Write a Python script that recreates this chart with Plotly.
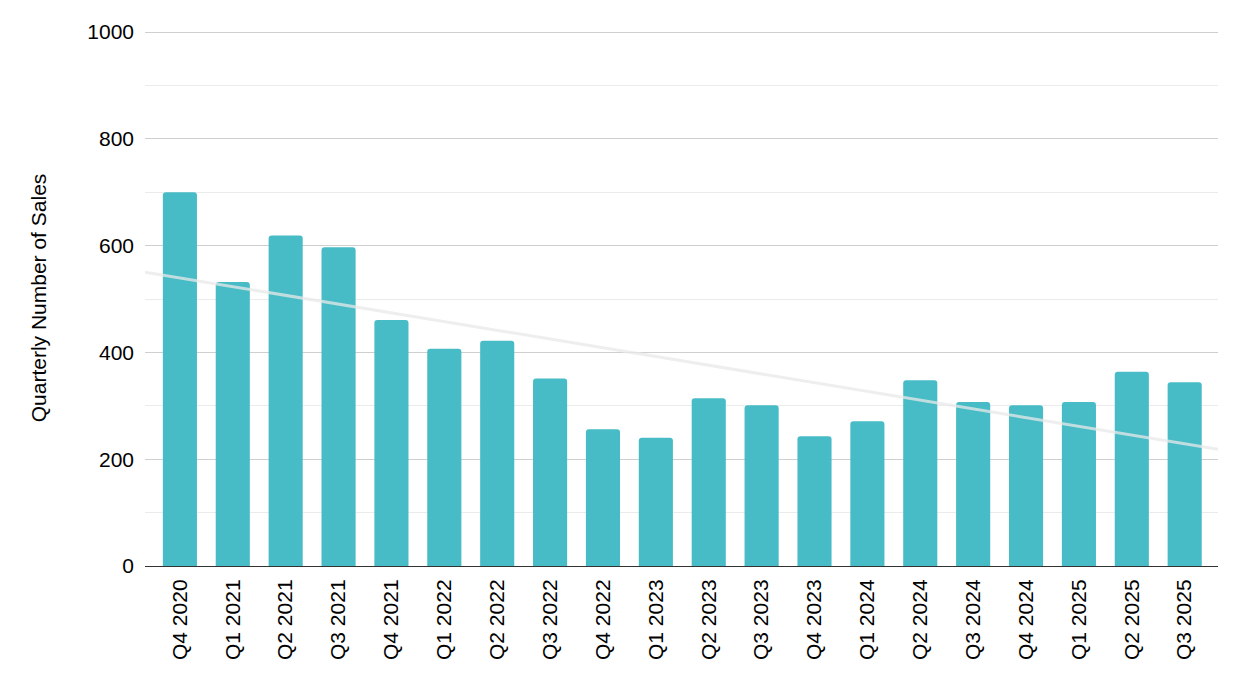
import numpy as np
import plotly.graph_objects as go

quarters = ["Q4 2020", "Q1 2021", "Q2 2021", "Q3 2021", "Q4 2021", "Q1 2022", "Q2 2022",
            "Q3 2022", "Q4 2022", "Q1 2023", "Q2 2023", "Q3 2023", "Q4 2023", "Q1 2024",
            "Q2 2024", "Q3 2024", "Q4 2024", "Q1 2025", "Q2 2025", "Q3 2025"]
sales = [700, 532, 619, 597, 461, 407, 422, 351, 256, 240, 314, 301, 243, 271,
         348, 307, 301, 307, 364, 344]
y_ticks = [0, 200, 400, 600, 800, 1000]

idx = np.arange(len(quarters))
x_range = [-0.66, len(quarters) - 1 + 0.63]
slope, intercept = np.polyfit(idx, sales, 1)
trend_x = x_range
trend_y = [slope * x + intercept for x in trend_x]

fig = go.Figure()
fig.add_trace(go.Bar(x=idx, y=sales, width=0.645,
                     marker=dict(color="#47BCC6", line_width=0, cornerradius=3),
                     showlegend=False))
fig.add_trace(go.Scatter(x=trend_x, y=trend_y, mode="lines",
                         line=dict(color="rgba(232,232,232,0.75)", width=3), showlegend=False))

fig.update_layout(
    width=1226, height=670,
    margin=dict(l=137, r=16, t=18, b=112),
    paper_bgcolor="white", plot_bgcolor="white",
    font=dict(family="Liberation Sans, Arial, sans-serif", color="#000", size=21),
)
fig.update_xaxes(range=x_range, tickvals=idx, ticktext=quarters,
                 tickangle=-90, showgrid=False, zeroline=False, showline=True,
                 linecolor="#333", linewidth=1, ticks="", tickfont=dict(size=21),
                 ticklabelstandoff=4)
fig.update_yaxes(range=[0, 1004], tickvals=y_ticks, showgrid=True, gridcolor="#cfcfcf",
                 gridwidth=1, zeroline=False, showline=False, ticks="",
                 tickfont=dict(size=21), ticklabelstandoff=10,
                 minor=dict(dtick=100, showgrid=True, gridcolor="#ebebeb", gridwidth=1),
                 title=dict(text="Quarterly Number of Sales", font=dict(size=21), standoff=34))

fig.write_html("out.html")
